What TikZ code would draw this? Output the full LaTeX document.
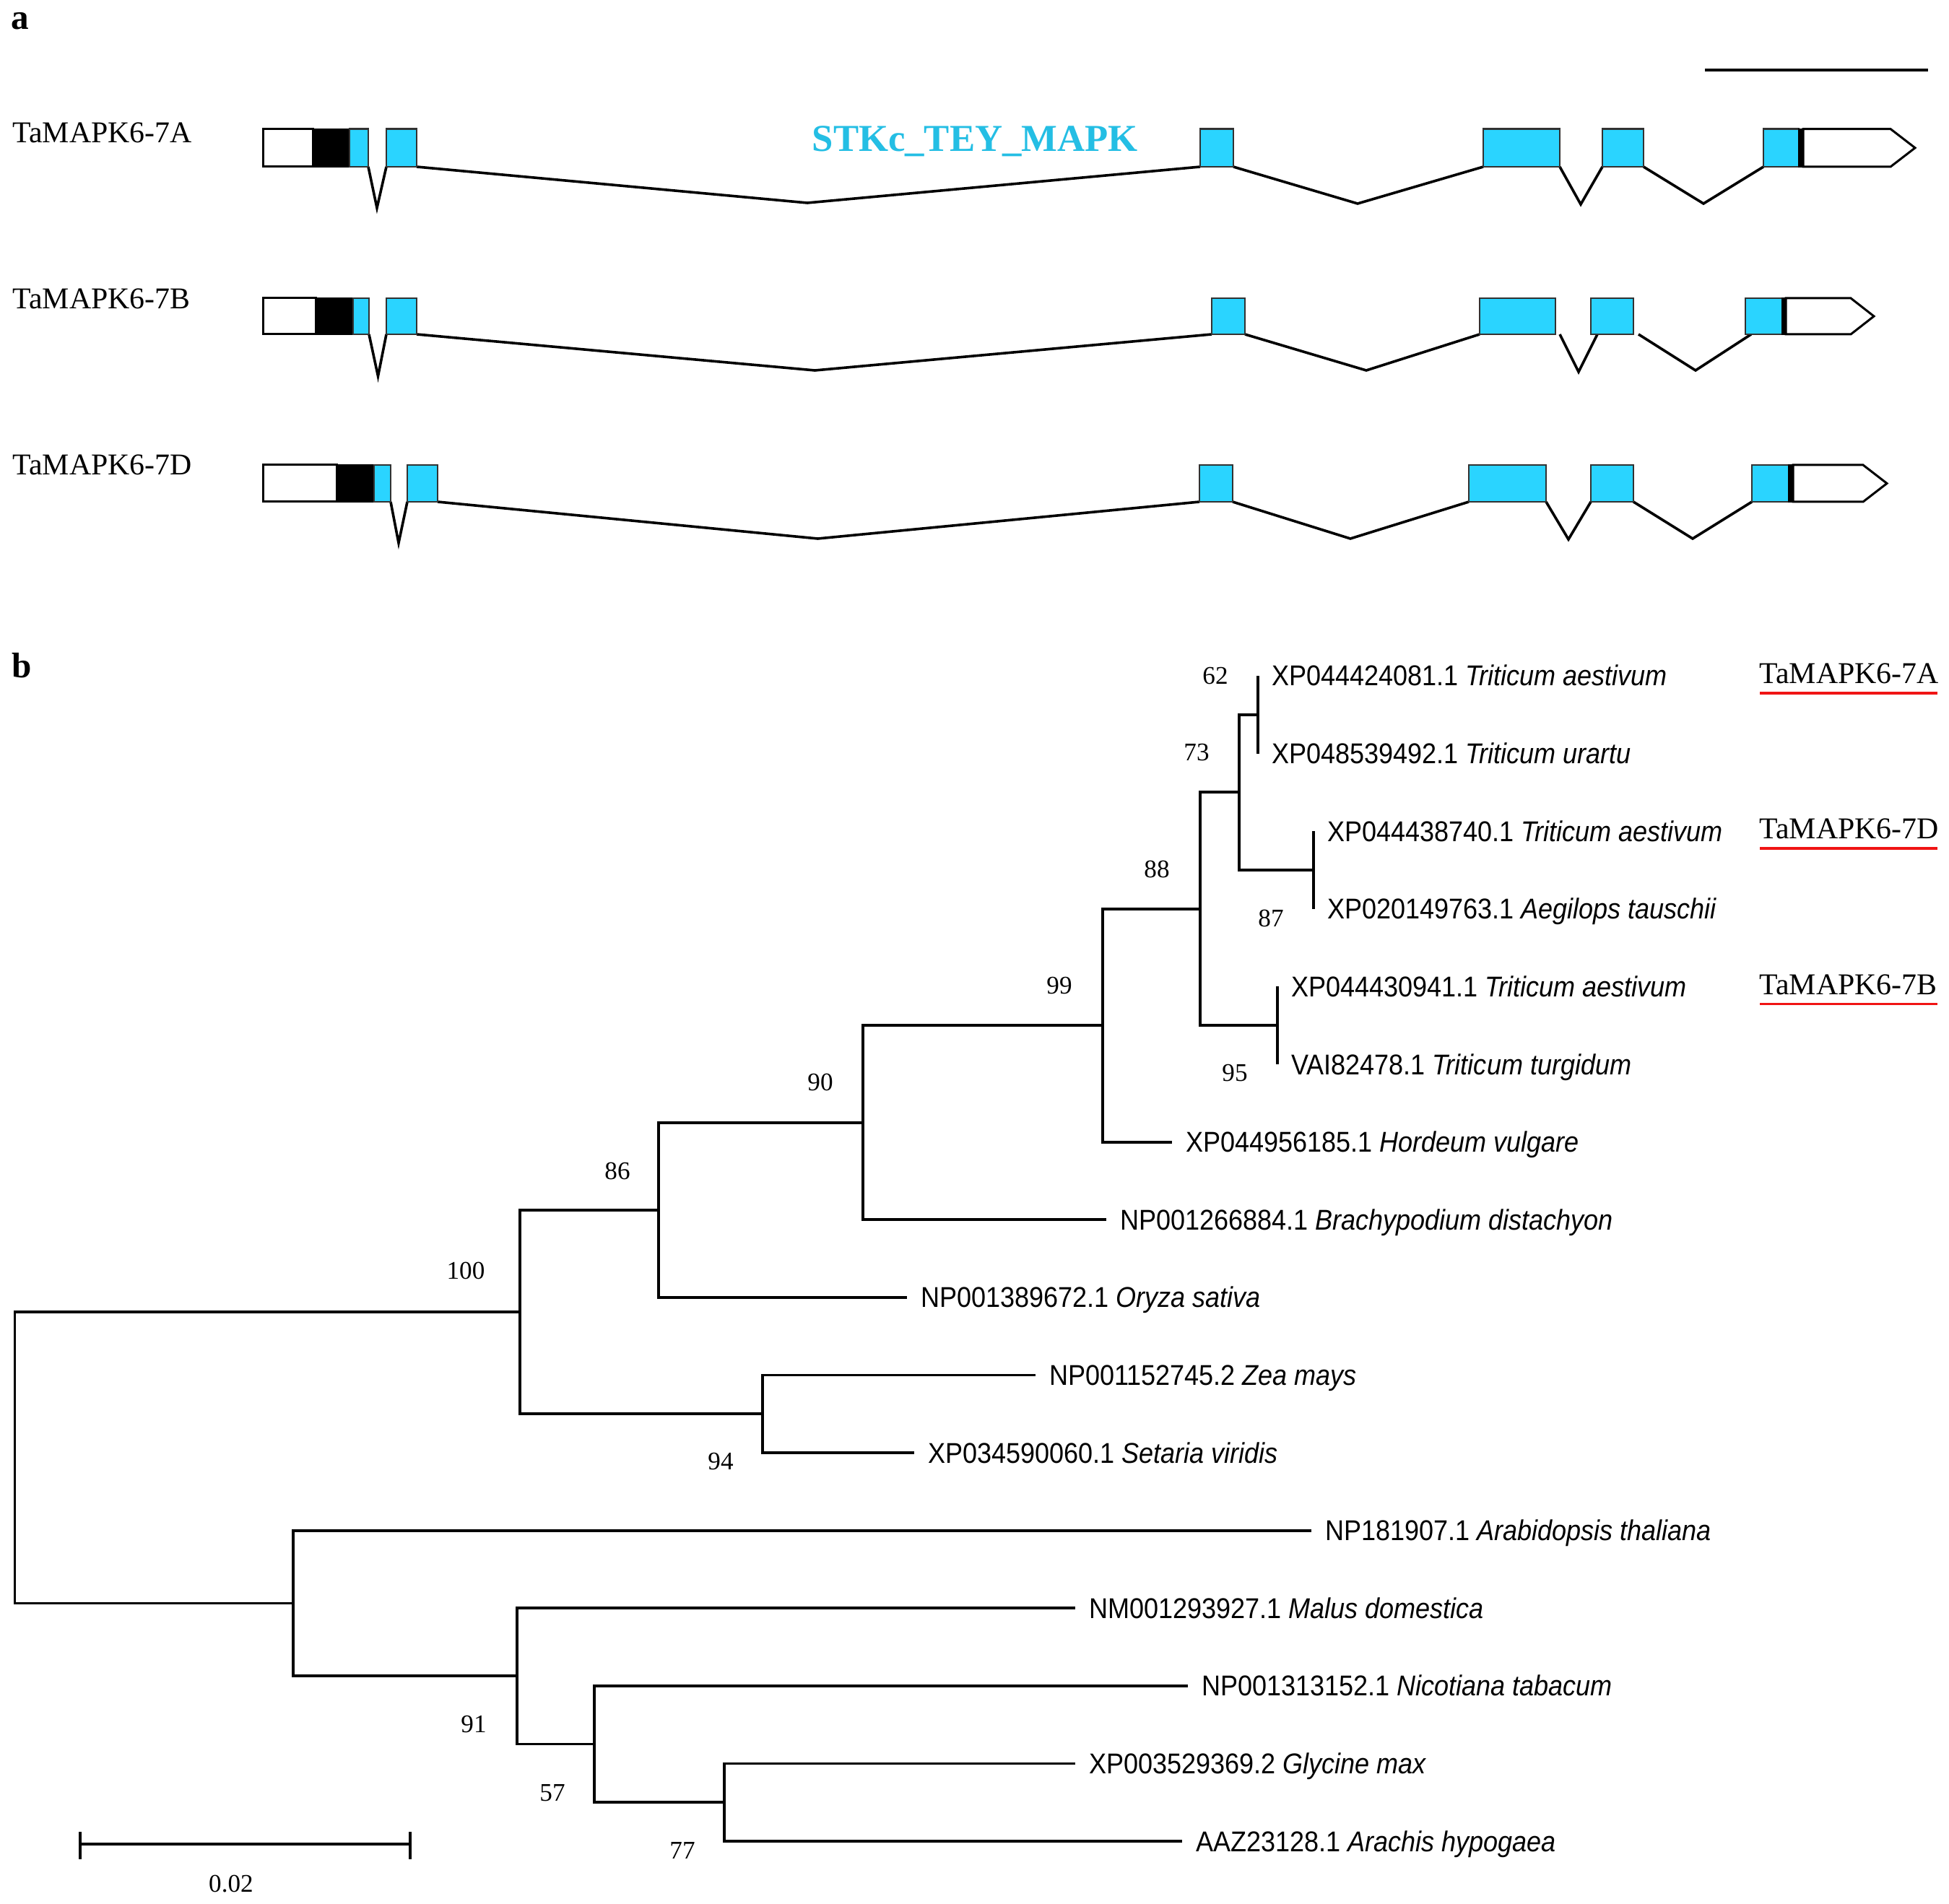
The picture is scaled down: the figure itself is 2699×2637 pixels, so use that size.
\documentclass[tikz,border=0pt]{standalone}
\usepackage{fontspec}
\setmainfont{Liberation Serif}
\newfontfamily\arialf{Liberation Sans}
\definecolor{exon}{RGB}{42,212,255}
\definecolor{domtxt}{RGB}{36,190,228}
\definecolor{ulred}{RGB}{240,20,20}
\definecolor{boxedge}{RGB}{50,50,50}
\newcommand{\lf}[1]{\scalebox{1}[1.1]{#1}}
\begin{document}
\begin{tikzpicture}[x=0.1mm,y=-0.1mm,
  exonbox/.style={fill=exon,draw=boxedge,line width=0.25mm},
  utrbox/.style={fill=white,draw=black,line width=0.3mm,line join=miter},
  cdsblk/.style={fill=black,draw=black,line width=0.2mm},
  intron/.style={draw=black,line width=0.36mm,line join=miter},
  branch/.style={draw=black,line width=0.38mm,line join=miter},
  leaf/.style={anchor=west,inner xsep=1.9mm,inner ysep=0pt,outer sep=0pt,text height=2.8mm,text depth=0mm,font=\arialf\fontsize{10.25}{12}\selectfont},
  boot/.style={inner sep=0pt,font=\fontsize{10}{12}\selectfont},
  glabel/.style={anchor=base west,inner sep=0pt,font=\fontsize{11.9}{14}\selectfont},
  panel/.style={anchor=base west,inner sep=0pt,font=\bfseries\fontsize{14}{16}\selectfont}]
\path[fill=white,use as bounding box] (0,0) rectangle (2699,2637);

% ---------------- panel a ----------------
\node[panel] (pa) at (15,41) {a};
\draw[line width=0.4mm] (2361,97) -- (2670,97);

\node[glabel] (g7A) at (17,198) {TaMAPK6-7A};
\node[glabel] (g7B) at (17,428) {TaMAPK6-7B};
\node[glabel] (g7D) at (17,658) {TaMAPK6-7D};
\node[anchor=base west,inner sep=0pt,text=domtxt,font=\bfseries\fontsize{15}{18}\selectfont] (dom) at (1124,210) {STKc\_TEY\_MAPK};

% TaMAPK6-7A  (top 178.6, bottom 231)
\draw[intron] (510,231) -- (522,288) -- (535,231);
\draw[intron] (577,231) -- (1118,281) -- (1662,231);
\draw[intron] (1708,231) -- (1880,282) -- (2054,231);
\draw[intron] (2160,231) -- (2189,283) -- (2219,231);
\draw[intron] (2276,231) -- (2359,282) -- (2442,231);
\draw[utrbox] (364.5,178.6) rectangle (433,231);
\draw[cdsblk] (433,178.6) rectangle (484,231);
\draw[exonbox] (484,178.6) rectangle (510,231);
\draw[exonbox] (535,178.6) rectangle (577,231);
\draw[exonbox] (1662,178.6) rectangle (1708,231);
\draw[exonbox] (2054,178.6) rectangle (2160,231);
\draw[exonbox] (2219,178.6) rectangle (2276,231);
\draw[exonbox] (2442,178.6) rectangle (2491,231);
\draw[utrbox] (2497,178.6) -- (2618,178.6) -- (2652,204.8) -- (2618,231) -- (2497,231) -- cycle;
\draw[cdsblk] (2491,178.6) rectangle (2497,231);

% TaMAPK6-7B  (top 413, bottom 463)
\draw[intron] (511,463) -- (523.5,521) -- (535,463);
\draw[intron] (577,463) -- (1128.5,513) -- (1678,463);
\draw[intron] (1724,463) -- (1892,513) -- (2049,463);
\draw[intron] (2160,463) -- (2186,515) -- (2212,463);
\draw[intron] (2269,463) -- (2348,513) -- (2425,463);
\draw[utrbox] (364.5,413) rectangle (437,463);
\draw[cdsblk] (437,413) rectangle (489,463);
\draw[exonbox] (489,413) rectangle (511,463);
\draw[exonbox] (535,413) rectangle (577,463);
\draw[exonbox] (1678,413) rectangle (1724,463);
\draw[exonbox] (2049,413) rectangle (2154,463);
\draw[exonbox] (2203,413) rectangle (2262,463);
\draw[exonbox] (2417,413) rectangle (2468,463);
\draw[utrbox] (2473,413) -- (2563,413) -- (2595,438) -- (2563,463) -- (2473,463) -- cycle;
\draw[cdsblk] (2468,413) rectangle (2473,463);

% TaMAPK6-7D  (top 644, bottom 695)
\draw[intron] (541,695) -- (552,752) -- (564,695);
\draw[intron] (606,695) -- (1132.5,746) -- (1661,695);
\draw[intron] (1707,695) -- (1870,746) -- (2034,695);
\draw[intron] (2141,695) -- (2172,747) -- (2203,695);
\draw[intron] (2262,695) -- (2344,746) -- (2426,695);
\draw[utrbox] (364.5,644) rectangle (466,695);
\draw[cdsblk] (466,644) rectangle (518,695);
\draw[exonbox] (518,644) rectangle (541,695);
\draw[exonbox] (564,644) rectangle (606,695);
\draw[exonbox] (1661,644) rectangle (1707,695);
\draw[exonbox] (2034,644) rectangle (2141,695);
\draw[exonbox] (2203,644) rectangle (2262,695);
\draw[exonbox] (2426,644) rectangle (2477,695);
\draw[utrbox] (2483,644) -- (2580,644) -- (2613,669.5) -- (2580,695) -- (2483,695) -- cycle;
\draw[cdsblk] (2477,644) rectangle (2483,695);

% ---------------- panel b ----------------
\node[panel] (pb) at (16,939) {b};

% leaves
\node[leaf] (l1)  at (1742,936)    {\lf{XP044424081.1 \textit{Triticum aestivum}}};
\node[leaf] (l2)  at (1742,1043.6) {\lf{XP048539492.1 \textit{Triticum urartu}}};
\node[leaf] (l3)  at (1819,1151.2) {\lf{XP044438740.1 \textit{Triticum aestivum}}};
\node[leaf] (l4)  at (1819,1258.8) {\lf{XP020149763.1 \textit{Aegilops tauschii}}};
\node[leaf] (l5)  at (1769,1366.4) {\lf{XP044430941.1 \textit{Triticum aestivum}}};
\node[leaf] (l6)  at (1769,1474)   {\lf{VAI82478.1 \textit{Triticum turgidum}}};
\node[leaf] (l7)  at (1623,1581.6) {\lf{XP044956185.1 \textit{Hordeum vulgare}}};
\node[leaf] (l8)  at (1532,1689.2) {\lf{NP001266884.1 \textit{Brachypodium distachyon}}};
\node[leaf] (l9)  at (1256,1796.8) {\lf{NP001389672.1 \textit{Oryza sativa}}};
\node[leaf] (l10) at (1434,1904.4) {\lf{NP001152745.2 \textit{Zea mays}}};
\node[leaf] (l11) at (1266,2012)   {\lf{XP034590060.1 \textit{Setaria viridis}}};
\node[leaf] (l12) at (1816,2119.6) {\lf{NP181907.1 \textit{Arabidopsis thaliana}}};
\node[leaf] (l13) at (1489,2227.2) {\lf{NM001293927.1 \textit{Malus domestica}}};
\node[leaf] (l14) at (1645,2334.8) {\lf{NP001313152.1 \textit{Nicotiana tabacum}}};
\node[leaf] (l15) at (1489,2442.4) {\lf{XP003529369.2 \textit{Glycine max}}};
\node[leaf] (l16) at (1637,2550)   {\lf{AAZ23128.1 \textit{Arachis hypogaea}}};

% internal nodes
\coordinate (n62)  at (1742,989.8);
\coordinate (n87)  at (1819,1205);
\coordinate (n73)  at (1716,1097.4);
\coordinate (n95)  at (1769,1420.2);
\coordinate (n88)  at (1662,1258.8);
\coordinate (n99)  at (1527,1420.2);
\coordinate (n90)  at (1195,1554.7);
\coordinate (n86)  at (912,1675.75);
\coordinate (n94)  at (1056,1958.2);
\coordinate (n100) at (720,1817);
\coordinate (n77)  at (1003,2496.2);
\coordinate (n57)  at (823,2415.5);
\coordinate (n91)  at (716,2321.35);
\coordinate (nlow) at (406,2220.5);
\coordinate (root) at (20.5,2018.7);

% branches
\draw[branch] (n62) |- (l1.west);
\draw[branch] (n62) |- (l2.west);
\draw[branch] (n87) |- (l3.west);
\draw[branch] (n87) |- (l4.west);
\draw[branch] (n73) |- (n62);
\draw[branch] (n73) |- (n87);
\draw[branch] (n95) |- (l5.west);
\draw[branch] (n95) |- (l6.west);
\draw[branch] (n88) |- (n73);
\draw[branch] (n88) |- (n95);
\draw[branch] (n99) |- (n88);
\draw[branch] (n99) |- (l7.west);
\draw[branch] (n90) |- (n99);
\draw[branch] (n90) |- (l8.west);
\draw[branch] (n86) |- (n90);
\draw[branch] (n86) |- (l9.west);
\draw[branch] (n94) |- (l10.west);
\draw[branch] (n94) |- (l11.west);
\draw[branch] (n100) |- (n86);
\draw[branch] (n100) |- (n94);
\draw[branch] (n77) |- (l15.west);
\draw[branch] (n77) |- (l16.west);
\draw[branch] (n57) |- (l14.west);
\draw[branch] (n57) |- (n77);
\draw[branch] (n91) |- (l13.west);
\draw[branch] (n91) |- (n57);
\draw[branch] (nlow) |- (l12.west);
\draw[branch] (nlow) |- (n91);
\draw[branch] (root) |- (n100);
\draw[branch] (root) |- (nlow);

% bootstrap values
\node[boot] (b62)  at (1683,936)  {62};
\node[boot] (b73)  at (1657,1042) {73};
\node[boot] (b88)  at (1602,1204) {88};
\node[boot] (b87)  at (1760,1272) {87};
\node[boot] (b99)  at (1467,1365) {99};
\node[boot] (b95)  at (1710,1486) {95};
\node[boot] (b90)  at (1136,1499) {90};
\node[boot] (b86)  at (855,1622)  {86};
\node[boot] (b100) at (645,1760)  {100};
\node[boot] (b94)  at (998,2024)  {94};
\node[boot] (b91)  at (656,2388)  {91};
\node[boot] (b57)  at (765,2483)  {57};
\node[boot] (b77)  at (945,2563)  {77};

% gene labels on the right
\node[glabel] (r7A) at (2436,946.7)  {TaMAPK6-7A};
\node[glabel] (r7D) at (2436,1161.9) {TaMAPK6-7D};
\node[glabel] (r7B) at (2436,1377.1) {TaMAPK6-7B};
\draw[ulred,line width=0.35mm] (2437,960) -- (2683,960);
\draw[ulred,line width=0.35mm] (2437,1175.2) -- (2683,1175.2);
\draw[ulred,line width=0.35mm] (2437,1390.4) -- (2683,1390.4);

% scale bar
\coordinate (sb1) at (111,2554);
\coordinate (sb2) at (568,2554);
\draw[line width=0.4mm] (sb1) -- (sb2);
\draw[line width=0.4mm] (111,2537) -- (111,2575);
\draw[line width=0.4mm] (568,2537) -- (568,2575);
\node[boot] (sbl) at (320,2609) {0.02};
\end{tikzpicture}
\end{document}
